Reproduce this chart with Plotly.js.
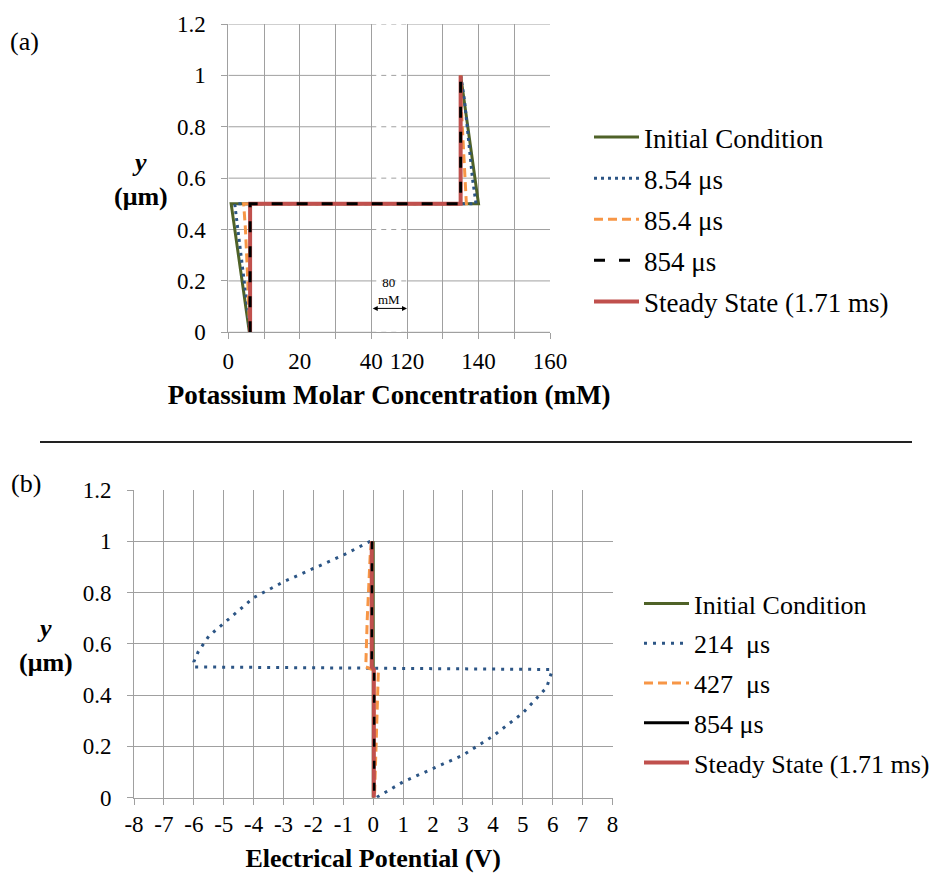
<!DOCTYPE html>
<html>
<head>
<meta charset="utf-8">
<script src="https://cdn.plot.ly/plotly-3.0.1.min.js"></script>
<style>html,body{margin:0;padding:0;background:#fff;overflow:hidden;}#chart{width:941px;height:873px;overflow:hidden;}</style>
</head>
<body>
<div id="chart"></div>
<script>
// ---------- Panel (a): potassium molar concentration (mM) vs y (um) ----------
const concTickVals = [0, 10, 20, 30, 40, 120, 130, 140, 150, 160];
const concTickText = ['0', '', '20', '', '40', '120', '', '140', '', '160'];
const yTickVals = [0, 0.2, 0.4, 0.6, 0.8, 1.0, 1.2];

const a_init_x = [5.9, 0.8, 140, 135];
const a_init_y = [0, 0.5, 0.5, 1.0];
const a_t854a_x = [6.0, 5.5, 4.0, 2.5, 1.8, 139.3, 138.3, 137.2, 136.1, 135.0];
const a_t854a_y = [0, 0.08, 0.25, 0.42, 0.5, 0.5, 0.6, 0.75, 0.9, 1.0];
const a_t854b_x = [6.0, 5.8, 5.3, 4.8, 4.3, 136.6, 136.2, 135.6, 135.1, 135.0];
const a_t854b_y = [0, 0.1, 0.25, 0.4, 0.5, 0.5, 0.6, 0.75, 0.9, 1.0];
const a_t854c_x = [6.1, 6.1, 135, 135];
const a_t854c_y = [0, 0.5, 0.5, 1.0];
const a_ss_x = [6.1, 6.1, 135, 135];
const a_ss_y = [0, 0.5, 0.5, 1.0];

// ---------- Panel (b): electrical potential (V) vs y (um) ----------
const vTickVals = [-8, -7, -6, -5, -4, -3, -2, -1, 0, 1, 2, 3, 4, 5, 6, 7, 8];
const vTickText = ['-8', '-7', '-6', '-5', '-4', '-3', '-2', '-1', '0', '1', '2', '3', '4', '5', '6', '7', '8'];

const b_init_x = [0, 0];
const b_init_y = [0, 1.0];
const b_t214_x = [-0.1, -1, -2, -3, -4, -5, -5.5, -5.85, -6.0, -6.0, 5.95, 5.95, 5.8, 5.0, 4.0, 3.0, 2.0, 1.0, 0.1];
const b_t214_y = [1.0, 0.946, 0.894, 0.842, 0.78, 0.68, 0.63, 0.57, 0.53, 0.51, 0.50, 0.485, 0.43, 0.33, 0.24, 0.166, 0.115, 0.062, 0.0];
const b_t427_x = [-0.05, -0.1, -0.2, -0.25, -0.25, 0.17, 0.12, 0.07, 0.04];
const b_t427_y = [1.0, 0.95, 0.7, 0.54, 0.51, 0.49, 0.3, 0.1, 0];
const b_t854_x = [-0.04, -0.05, -0.05, 0.03, 0.03];
const b_t854_y = [1.0, 0.7, 0.51, 0.49, 0];
const b_ss_x = [-0.05, -0.05, 0.02, 0.02];
const b_ss_y = [1.0, 0.51, 0.5, 0];

// broken axis: 40 -> 120 gap compressed to one grid cell (10 units)
const brk = v => (v >= 120 ? v - 70 : v);
const gapLo = brk(40), gapHi = brk(120);

const FONT = 'Liberation Serif';
const GREEN = '#4f6228', BLUE = '#2c5585', ORANGE = '#f79646', RED = '#c0504d', BLACK = '#000000';
const GRID = '#a0a0a0';
const W = 941, H = 873;
const px = x => x / W, py = y => 1 - y / H;

const traces = [
  {x: a_init_x.map(brk), y: a_init_y, name: 'Initial Condition', legendrank: 1, legendgroup: 'a1',
   mode: 'lines', line: {color: GREEN, width: 3}, xaxis: 'x', yaxis: 'y', legend: 'legend'},
  {x: a_t854a_x.map(brk), y: a_t854a_y, name: '8.54 μs', legendrank: 2, legendgroup: 'a2',
   mode: 'lines', line: {color: BLUE, width: 3, dash: '3px,4px'}, xaxis: 'x', yaxis: 'y', legend: 'legend'},
  {x: a_t854b_x.map(brk), y: a_t854b_y, name: '85.4 μs', legendrank: 3, legendgroup: 'a3',
   mode: 'lines', line: {color: ORANGE, width: 3, dash: '9px,5px'}, xaxis: 'x', yaxis: 'y', legend: 'legend'},
  {x: a_ss_x.map(brk), y: a_ss_y, name: 'Steady State (1.71 ms)', legendrank: 5, legendgroup: 'a5',
   mode: 'lines', line: {color: RED, width: 4}, xaxis: 'x', yaxis: 'y', legend: 'legend'},
  {x: a_t854c_x.map(brk), y: a_t854c_y, name: '854 μs', legendrank: 4, legendgroup: 'a4',
   mode: 'lines', line: {color: BLACK, width: 3, dash: '11px,14px'}, xaxis: 'x', yaxis: 'y', legend: 'legend'},

  {x: b_init_x, y: b_init_y, name: 'Initial Condition', legendrank: 1, legendgroup: 'b1',
   mode: 'lines', line: {color: GREEN, width: 3}, xaxis: 'x2', yaxis: 'y2', legend: 'legend2'},
  {x: b_t214_x, y: b_t214_y, name: '214  μs', legendrank: 2, legendgroup: 'b2',
   mode: 'lines', line: {color: BLUE, width: 3, dash: '3px,6px'}, xaxis: 'x2', yaxis: 'y2', legend: 'legend2'},
  {x: b_t427_x, y: b_t427_y, name: '427  μs', legendrank: 3, legendgroup: 'b3',
   mode: 'lines', line: {color: ORANGE, width: 3, dash: '9px,5px'}, xaxis: 'x2', yaxis: 'y2', legend: 'legend2'},
  {x: b_ss_x, y: b_ss_y, name: 'Steady State (1.71 ms)', legendrank: 5, legendgroup: 'b5',
   mode: 'lines', line: {color: RED, width: 4}, xaxis: 'x2', yaxis: 'y2', legend: 'legend2'},
  {x: b_t854_x, y: b_t854_y, name: '854 μs', showlegend: false, legendgroup: 'b4',
   mode: 'lines', line: {color: BLACK, width: 2.5, dash: '8px,14px'}, xaxis: 'x2', yaxis: 'y2'},
  {x: [null], y: [null], name: '854 μs', legendrank: 4, legendgroup: 'b4',
   mode: 'lines', line: {color: BLACK, width: 3}, xaxis: 'x2', yaxis: 'y2', legend: 'legend2', hoverinfo: 'skip'}
];

// horizontal gridlines of panel (a): solid on both sides, dashed across the axis break
const shapes = [];
yTickVals.forEach(v => {
  shapes.push({type: 'line', xref: 'x', yref: 'y', x0: 0, x1: gapLo, y0: v, y1: v, layer: 'below', line: {color: GRID, width: 1}});
  shapes.push({type: 'line', xref: 'x', yref: 'y', x0: gapLo, x1: gapHi, y0: v, y1: v, layer: 'below', line: {color: GRID, width: 1, dash: '5px,5px'}});
  shapes.push({type: 'line', xref: 'x', yref: 'y', x0: gapHi, x1: brk(160), y0: v, y1: v, layer: 'below', line: {color: GRID, width: 1}});
});
// separator between panels
shapes.push({type: 'line', xref: 'paper', yref: 'paper', x0: px(40), x1: px(912), y0: py(442), y1: py(442), line: {color: '#222', width: 2}});

const txt = (text, x, y, size, extra) => Object.assign({
  text: text, xref: 'paper', yref: 'paper', x: px(x), y: py(y), xanchor: 'center', yanchor: 'middle',
  showarrow: false, font: {family: FONT, size: size, color: '#000'}, align: 'center'
}, extra || {});

const annotations = [
  txt('(a)', 24, 41, 26),
  txt('(b)', 26, 483, 26),
  txt('<b><i>y</i></b><br><b>(μm)</b>', 141, 180, 26),
  txt('<b><i>y</i></b><br><b>(μm)</b>', 46, 645, 26),
  // 80 mM break-width marker
  {text: '80<br>mM', xref: 'x', yref: 'y', x: (gapLo + gapHi) / 2, y: 0.16, xanchor: 'center', yanchor: 'middle', showarrow: false,
   font: {family: FONT, size: 13, color: '#000'}, align: 'center'},
  {xref: 'x', yref: 'y', axref: 'x', ayref: 'y', x: gapHi, y: 0.093, ax: gapLo, ay: 0.093, text: '',
   showarrow: true, arrowhead: 2, arrowside: 'end+start', arrowsize: 1, arrowwidth: 1, arrowcolor: '#000', standoff: 0, startstandoff: 0}
];

const axisCommon = {
  showgrid: true, gridcolor: GRID, gridwidth: 1, zeroline: false,
  showline: true, linecolor: GRID, linewidth: 1,
  ticks: 'outside', ticklen: 6, tickcolor: GRID, tickwidth: 1,
  tickfont: {family: FONT, size: 23, color: '#000'}, fixedrange: true
};

const layout = {
  width: W, height: H, autosize: false,
  margin: {l: 0, r: 0, t: 0, b: 0},
  paper_bgcolor: '#fff', plot_bgcolor: '#fff',
  showlegend: true,
  font: {family: FONT, color: '#000'},
  xaxis: Object.assign({}, axisCommon, {
    domain: [px(228.3), px(550)], range: [0, brk(160)], tickmode: 'array',
    tickvals: concTickVals.map(brk), ticktext: concTickText, anchor: 'y', ticklabelstandoff: 2,
    title: {text: '<b>Potassium Molar Concentration (mM)</b>', font: {family: FONT, size: 27, color: '#000'}, standoff: 12}
  }),
  yaxis: Object.assign({}, axisCommon, {
    domain: [py(332.3), py(24)], range: [0, 1.2], tickmode: 'array', tickvals: yTickVals,
    showgrid: false, anchor: 'x', ticklabelstandoff: 11
  }),
  xaxis2: Object.assign({}, axisCommon, {
    domain: [px(134), px(612.5)], range: [-8, 8], tickmode: 'array',
    tickvals: vTickVals, ticktext: vTickText, anchor: 'y2',
    title: {text: '<b>Electrical Potential (V)</b>', font: {family: FONT, size: 26, color: '#000'}, standoff: 14}
  }),
  yaxis2: Object.assign({}, axisCommon, {
    domain: [py(797.7), py(490)], range: [0, 1.2], tickmode: 'array', tickvals: yTickVals,
    anchor: 'x2', ticklabelstandoff: 11
  }),
  legend: {
    x: px(589), y: py(113), xanchor: 'left', yanchor: 'top', bgcolor: 'rgba(0,0,0,0)',
    font: {family: FONT, size: 27, color: '#000'}, traceorder: 'grouped', tracegroupgap: 3, itemwidth: 45
  },
  legend2: {
    x: px(639), y: py(580), xanchor: 'left', yanchor: 'top', bgcolor: 'rgba(0,0,0,0)',
    font: {family: FONT, size: 26, color: '#000'}, traceorder: 'grouped', tracegroupgap: 3, itemwidth: 45
  },
  shapes: shapes,
  annotations: annotations
};

Plotly.newPlot('chart', traces, layout, {staticPlot: true, displayModeBar: false});
</script>
</body>
</html>
